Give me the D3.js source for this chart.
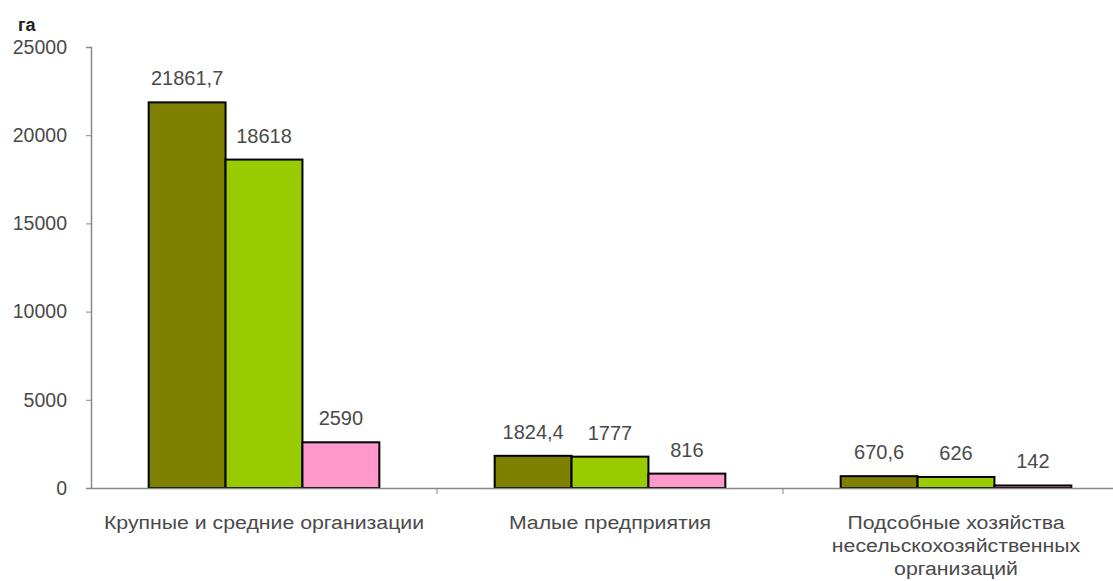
<!DOCTYPE html>
<html>
<head>
<meta charset="utf-8">
<script src="https://cdn.jsdelivr.net/npm/d3@7"></script>
<style>
  body { margin: 0; background: #fff; }
  svg text { font-family: "Liberation Sans", Arial, sans-serif; }
</style>
</head>
<body>
<div id="chart"></div>
<script>
const categories = [
    'Крупные и средние организации',
    'Малые предприятия',
    'Подсобные хозяйства несельскохозяйственных организаций'
];
const categoryLines = [
    ['Крупные и средние организации'],
    ['Малые предприятия'],
    ['Подсобные хозяйства', 'несельскохозяйственных', 'организаций']
];
const series1 = [21861.7, 1824.4, 670.6];
const series2 = [18618, 1777, 626];
const series3 = [2590, 816, 142];
const seriesColors = ['#808000', '#99cc00', '#ff99cc'];
const yTicks = [0, 5000, 10000, 15000, 20000, 25000];

const width = 1113, height = 581;
const margin = { left: 91, top: 47, bottom: 93 };
const bandWidth = 346;
const textColor = '#4a4a4a';

const svg = d3.select('#chart').append('svg')
    .attr('width', width)
    .attr('height', height);

const x = d3.scaleBand()
    .domain(categories)
    .range([margin.left, margin.left + bandWidth * categories.length])
    .paddingInner(0)
    .paddingOuter(0);

const xInner = d3.scaleBand()
    .domain([0, 1, 2])
    .range([0, bandWidth])
    .paddingOuter(0.75)
    .paddingInner(0);

const y = d3.scaleLinear()
    .domain([0, 25000])
    .range([height - margin.bottom, margin.top]);

const fmt = (v) => String(v).replace('.', ',');

/* y axis */
const yAxis = svg.append('g')
    .attr('transform', `translate(${margin.left},0)`)
    .call(d3.axisLeft(y).tickValues(yTicks).tickSize(5).tickFormat(d => d));
yAxis.select('.domain').attr('stroke', '#888').attr('stroke-width', 1.5);
yAxis.selectAll('.tick line').attr('stroke', '#888');
yAxis.selectAll('.tick text')
    .attr('x', -24)
    .attr('fill', textColor)
    .style('font-size', '19.5px');

svg.append('text')
    .attr('x', 18)
    .attr('y', 31)
    .attr('fill', '#222')
    .style('font-size', '18px')
    .style('font-weight', 'bold')
    .text('га');

/* bars */
const allSeries = [series1, series2, series3];
const groups = svg.append('g').selectAll('g')
    .data(categories)
    .join('g')
    .attr('transform', d => `translate(${x(d)},0)`);

groups.each(function (cat, ci) {
    const g = d3.select(this);
    allSeries.forEach((s, si) => {
        const v = s[ci];
        g.append('rect')
            .attr('x', xInner(si))
            .attr('y', y(v))
            .attr('width', xInner.bandwidth())
            .attr('height', y(0) - y(v))
            .attr('fill', seriesColors[si])
            .attr('stroke', '#000')
            .attr('stroke-width', 2);
        g.append('text')
            .attr('x', xInner(si) + xInner.bandwidth() / 2)
            .attr('y', y(v) - 17)
            .attr('text-anchor', 'middle')
            .attr('fill', textColor)
            .style('font-size', '20px')
            .text(fmt(v));
    });
});

/* x axis */
const xAxis = svg.append('g')
    .attr('transform', `translate(0,${y(0)})`)
    .call(d3.axisBottom(x).tickSize(0).tickFormat(''));
xAxis.select('.domain').attr('stroke', '#888').attr('stroke-width', 1.5);
svg.append('g').selectAll('line')
    .data(categories.slice(1))
    .join('line')
    .attr('x1', d => x(d)).attr('x2', d => x(d))
    .attr('y1', y(0)).attr('y2', y(0) + 6)
    .attr('stroke', '#888');

/* category labels (slightly stretched, as in the source) */
svg.append('g').selectAll('text')
    .data(categories)
    .join('text')
    .attr('text-anchor', 'middle')
    .attr('fill', textColor)
    .style('font-size', '19px')
    .attr('transform', d => `translate(${x(d) + bandWidth / 2},0) scale(1.12,1)`)
    .each(function (d, i) {
        d3.select(this).selectAll('tspan')
            .data(categoryLines[i])
            .join('tspan')
            .attr('x', 0)
            .attr('y', (l, li) => y(0) + 41 + li * 23)
            .text(l => l);
    });
</script>
</body>
</html>
